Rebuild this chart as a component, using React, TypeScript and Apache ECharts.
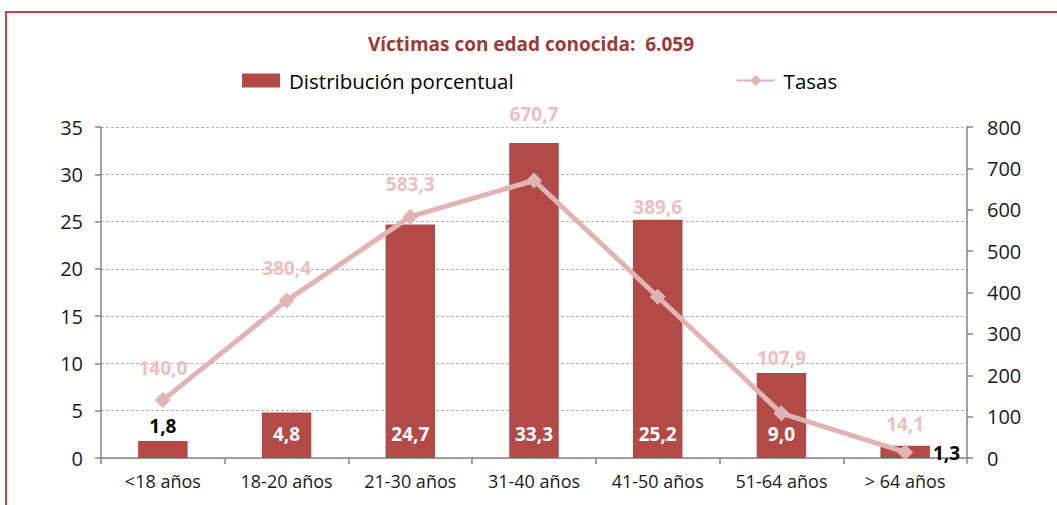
import React, { useEffect, useRef } from "react";
import * as echarts from "echarts";

const categories = ["<18 años", "18-20 años", "21-30 años", "31-40 años", "41-50 años", "51-64 años", "> 64 años"];
const distribucion = [1.8, 4.8, 24.7, 33.3, 25.2, 9.0, 1.3];
const tasas = [140.0, 380.4, 583.3, 670.7, 389.6, 107.9, 14.1];
const leftTicks = { min: 0, max: 35, interval: 5 };
const rightTicks = { min: 0, max: 800, interval: 100 };
// extra vertical shift of the "Tasas" labels (Excel moves some above the bars)
const tasaLabelShift = [0, 0, 0, -34, -57, -23, 4];

const FONT = "'Open Sans', 'Noto Sans', sans-serif";
const BAR = "#b24a48";
const LINE = "#e0b4b3";
const fmt = (v: number) => v.toFixed(1).replace(".", ",");

export default function App() {
  const ref = useRef<HTMLDivElement>(null);
  useEffect(() => {
    const chart = echarts.init(ref.current!, undefined, { renderer: "svg" });
    const barData = distribucion.map((v, i) => {
      let label: any = {
        show: true,
        position: "insideBottom",
        distance: 15,
        color: "#ffffff",
      };
      if (i === 0) label = { show: true, position: "top", distance: 5, color: "#000000" };
      if (i === distribucion.length - 1) label = { show: true, position: "right", distance: 3, color: "#000000", offset: [0, 1] };
      return { value: v, label };
    });
    const lineData = tasas.map((v, i) => ({
      value: v,
      label: { offset: [0, tasaLabelShift[i]] },
    }));
    chart.setOption({
      animation: false,
      textStyle: { fontFamily: FONT },
      title: {
        text: "Víctimas con edad conocida:  6.059",
        left: 526,
        textAlign: "center",
        top: 29,
        textStyle: { fontFamily: FONT, fontSize: 19, fontWeight: "bold", color: "#9b3a3a" },
      },
      legend: {
        top: 65,
        left: 237,
        itemGap: 222,
        itemWidth: 38,
        itemHeight: 14,
        textStyle: { fontFamily: FONT, fontSize: 20.5, color: "#000", padding: [0, 0, 0, 4] },
        data: [
          { name: "Distribución porcentual", icon: "rect" },
          { name: "Tasas" },
        ],
      },
      grid: { left: 101, right: 90, top: 127, bottom: 47, containLabel: false },
      xAxis: {
        type: "category",
        data: categories,
        axisLine: { lineStyle: { color: "#868686", width: 1.5 } },
        axisTick: { show: true, length: 6, alignWithLabel: false, lineStyle: { color: "#868686", width: 1.5 } },
        axisLabel: { fontFamily: FONT, fontSize: 18, color: "#1a1a1a", margin: 14 },
      },
      yAxis: [
        {
          type: "value",
          ...leftTicks,
          axisLine: { show: true, lineStyle: { color: "#868686", width: 1.5 } },
          axisTick: { show: true, length: 6, lineStyle: { color: "#868686", width: 1.5 } },
          axisLabel: { fontFamily: FONT, fontSize: 20, color: "#1a1a1a", margin: 18 },
          splitLine: { show: true, lineStyle: { color: "#a0a0a0", type: [3, 2], width: 0.8 } },
        },
        {
          type: "value",
          ...rightTicks,
          position: "right",
          axisLine: { show: true, lineStyle: { color: "#868686", width: 1.5 } },
          axisTick: { show: true, length: 6, lineStyle: { color: "#868686", width: 1.5 } },
          axisLabel: { fontFamily: FONT, fontSize: 20, color: "#1a1a1a", margin: 20 },
          splitLine: { show: false },
        },
      ],
      series: [
        {
          name: "Distribución porcentual",
          type: "bar",
          yAxisIndex: 0,
          barWidth: "40%",
          itemStyle: { color: BAR },
          label: {
            fontFamily: FONT,
            fontSize: 19,
            fontWeight: "bold",
            formatter: (p: any) => fmt(p.value),
          },
          data: barData,
        },
        {
          name: "Tasas",
          type: "line",
          yAxisIndex: 1,
          symbol: "diamond",
          symbolSize: 16,
          lineStyle: { color: LINE, width: 5 },
          itemStyle: { color: LINE },
          label: {
            show: true,
            position: "top",
            distance: 15,
            fontFamily: FONT,
            fontSize: 19,
            fontWeight: "bold",
            color: "#ebbfbe",
            formatter: (p: any) => fmt(p.value),
          },
          data: lineData,
          z: 3,
        },
      ],
      graphic: [
        {
          type: "polyline",
          shape: { points: [[6, 505], [6, 12], [1057, 12]] },
          style: { stroke: "#c00000", lineWidth: 1.5, fill: null },
          silent: true,
        },
      ],
    });
    return () => chart.dispose();
  }, []);
  return <div ref={ref} style={{ width: 1057, height: 505, position: "absolute", left: 0, top: 0 }} />;
}
